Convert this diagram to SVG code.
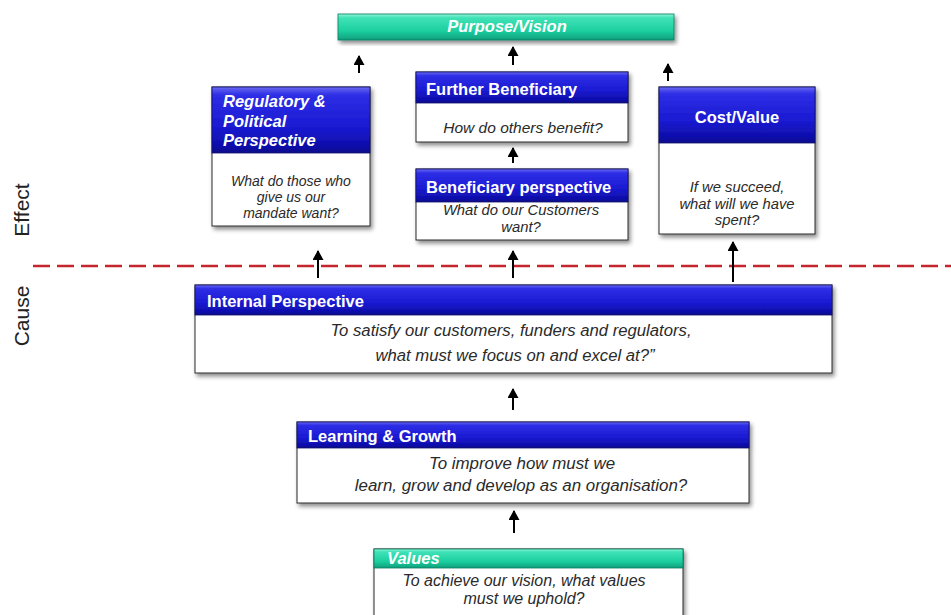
<svg xmlns="http://www.w3.org/2000/svg" width="951" height="615" viewBox="0 0 951 615">
  <defs>
    <linearGradient id="blueHead" x1="0" y1="0" x2="0" y2="1">
      <stop offset="0" stop-color="#6a6af2"/>
      <stop offset="0.12" stop-color="#2e2ee6"/>
      <stop offset="0.6" stop-color="#1a1ad2"/>
      <stop offset="0.9" stop-color="#0e0eaa"/>
      <stop offset="1" stop-color="#0a0a88"/>
    </linearGradient>
    <linearGradient id="tealHead" x1="0" y1="0" x2="0" y2="1">
      <stop offset="0" stop-color="#8ff5d6"/>
      <stop offset="0.15" stop-color="#3fe2b6"/>
      <stop offset="0.65" stop-color="#1ccf9f"/>
      <stop offset="1" stop-color="#0e9f7c"/>
    </linearGradient>
    <filter id="shadow" x="-10%" y="-10%" width="125%" height="130%">
      <feDropShadow dx="2" dy="3" stdDeviation="2" flood-color="#000" flood-opacity="0.45"/>
    </filter>
    <marker id="head" markerUnits="userSpaceOnUse" markerWidth="12" markerHeight="11" refX="9" refY="5.5" orient="auto">
      <path d="M0,0 L10,5.5 L0,11 z" fill="#000"/>
    </marker>
  </defs>
  <style>
    .body { fill: #ffffff; stroke: #2b2b2b; stroke-width: 1; }
    .head { fill: url(#blueHead); stroke: #10106a; stroke-width: 0.8; }
    .teal { fill: url(#tealHead); stroke: #0b7a60; stroke-width: 0.8; }
    .title { font-family: "Liberation Sans", Arial, sans-serif; font-weight: bold; fill: #ffffff; font-size: 16.5px; }
    .ital { font-style: italic; }
    .txt { font-family: "Liberation Sans", Arial, sans-serif; font-style: italic; fill: #2a2a2a; text-anchor: middle; }
    .side { font-family: "Liberation Sans", Arial, sans-serif; font-size: 21px; fill: #222; text-anchor: middle; }
    .arrow { stroke: #000; stroke-width: 2; fill: none; marker-end: url(#head); }
  </style>

  <rect width="951" height="615" fill="#ffffff"/>

  <!-- side labels -->
  <text class="side" transform="translate(29,210) rotate(-90)">Effect</text>
  <text class="side" transform="translate(29,316) rotate(-90)">Cause</text>

  <!-- cause / effect divider -->
  <line x1="33" y1="266" x2="951" y2="266" stroke="#c4262e" stroke-width="2.5" stroke-dasharray="17 7"/>

  <g id="purpose">
    <rect class="teal" x="338" y="14" width="336" height="26" filter="url(#shadow)"/>
    <text class="title ital" x="507" y="32" text-anchor="middle">Purpose/Vision</text>
  </g>

  <g id="regulatory">
    <g filter="url(#shadow)">
      <rect class="body" x="212" y="87" width="158" height="139"/>
      <rect class="head" x="212" y="87" width="158" height="66"/>
    </g>
    <text class="title ital" x="223" y="107">Regulatory &amp;</text>
    <text class="title ital" x="223" y="127">Political</text>
    <text class="title ital" x="223" y="146">Perspective</text>
    <text class="txt" x="291" y="186" font-size="14">What do those who</text>
    <text class="txt" x="291" y="202" font-size="14">give us our</text>
    <text class="txt" x="291" y="218" font-size="14">mandate want?</text>
  </g>

  <g id="further">
    <g filter="url(#shadow)">
      <rect class="body" x="416" y="72" width="212" height="70"/>
      <rect class="head" x="416" y="72" width="212" height="31"/>
    </g>
    <text class="title" x="426" y="95">Further Beneficiary</text>
    <text class="txt" x="523" y="133" font-size="15.5">How do others benefit?</text>
  </g>

  <g id="beneficiary">
    <g filter="url(#shadow)">
      <rect class="body" x="416" y="169" width="212" height="71"/>
      <rect class="head" x="416" y="169" width="212" height="33"/>
    </g>
    <text class="title" x="426" y="193">Beneficiary perspective</text>
    <text class="txt" x="521" y="215" font-size="14.8">What do our Customers</text>
    <text class="txt" x="521" y="232" font-size="14.8">want?</text>
  </g>

  <g id="cost">
    <g filter="url(#shadow)">
      <rect class="body" x="659" y="87" width="156" height="147"/>
      <rect class="head" x="659" y="87" width="156" height="56"/>
    </g>
    <text class="title" x="737" y="123" text-anchor="middle">Cost/Value</text>
    <text class="txt" x="737" y="192" font-size="14.8">If we succeed,</text>
    <text class="txt" x="737" y="208.5" font-size="14.8">what will we have</text>
    <text class="txt" x="737" y="225" font-size="14.8">spent?</text>
  </g>

  <g id="internal">
    <g filter="url(#shadow)">
      <rect class="body" x="195" y="285" width="637" height="88"/>
      <rect class="head" x="195" y="285" width="637" height="30"/>
    </g>
    <text class="title" x="207" y="307">Internal Perspective</text>
    <text class="txt" x="511" y="336" font-size="16.7">To satisfy our customers, funders and regulators,</text>
    <text class="txt" x="515" y="361" font-size="16.7">what must we focus on and excel at?”</text>
  </g>

  <g id="learning">
    <g filter="url(#shadow)">
      <rect class="body" x="297" y="422" width="452" height="81"/>
      <rect class="head" x="297" y="422" width="452" height="26"/>
    </g>
    <text class="title" x="308" y="442">Learning &amp; Growth</text>
    <text class="txt" x="522" y="469" font-size="16.9">To improve how must we</text>
    <text class="txt" x="521" y="491" font-size="16.9">learn, grow and develop as an organisation?</text>
  </g>

  <g id="values">
    <g filter="url(#shadow)">
      <rect class="body" x="374" y="549" width="309" height="80"/>
      <rect class="teal" x="374" y="549" width="309" height="19"/>
    </g>
    <text class="title ital" x="387" y="564">Values</text>
    <text class="txt" x="524" y="586" font-size="16">To achieve our vision, what values</text>
    <text class="txt" x="524" y="604" font-size="16">must we uphold?</text>
  </g>

  <g id="connectors">
    <line class="arrow" x1="359" y1="73" x2="359" y2="56"/>
    <line class="arrow" x1="513" y1="65" x2="513" y2="47"/>
    <line class="arrow" x1="668" y1="81" x2="668" y2="64"/>
    <line class="arrow" x1="513" y1="163" x2="513" y2="148"/>
    <line class="arrow" x1="318" y1="278" x2="318" y2="251"/>
    <line class="arrow" x1="513" y1="278" x2="513" y2="251"/>
    <line class="arrow" x1="733" y1="282" x2="733" y2="242"/>
    <line class="arrow" x1="513" y1="410" x2="513" y2="389"/>
    <line class="arrow" x1="514" y1="533" x2="514" y2="511"/>
  </g>
</svg>
